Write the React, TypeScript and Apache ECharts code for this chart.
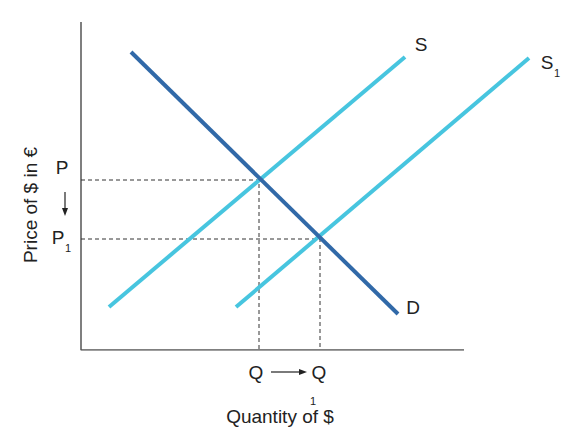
import React, { useEffect, useRef } from "react";
import * as echarts from "echarts";

// Diagram coordinates (arbitrary units; x: quantity, y: price)
const axisPath: [number, number][] = [[0, 328], [0, 0], [383, 0]];
const demandD: [number, number][] = [[50, 298], [317, 36]];
const supplyS: [number, number][] = [[28, 43], [324, 293]];
const supplyS1: [number, number][] = [[155, 43], [448, 292]];
const equilibrium: [number, number] = [178, 170];
const equilibrium1: [number, number] = [239, 111];

const FONT = "Liberation Sans, Arial, Helvetica, sans-serif";

export default function App() {
  const ref = useRef<HTMLDivElement>(null);
  useEffect(() => {
    document.body.style.margin = "0";
    const chart = echarts.init(ref.current!, null, { renderer: "svg" });
    const txt = (text: string, x: number, y: number, size = 19, extra: any = {}) => ({
      type: "text",
      x,
      y,
      ...extra,
      style: {
        text,
        fontFamily: FONT,
        fontSize: size,
        fill: "#222",
        textAlign: "center",
        textVerticalAlign: "middle",
      },
    });
    chart.setOption({
      animation: false,
      backgroundColor: "#fff",
      grid: { left: 81, top: 22, right: 39, bottom: 93 },
      xAxis: { type: "value", min: 0, max: 459, show: false },
      yAxis: { type: "value", min: 0, max: 328, show: false },
      series: [
        {
          type: "line",
          data: axisPath,
          symbol: "none",
          lineStyle: { color: "#555", width: 1.5 },
          silent: true,
        },
        {
          type: "line",
          data: [[0, equilibrium[1]], equilibrium, [equilibrium[0], 0]],
          symbol: "none",
          lineStyle: { color: "#333", width: 1, type: [4, 3] },
        },
        {
          type: "line",
          data: [[0, equilibrium1[1]], equilibrium1, [equilibrium1[0], 0]],
          symbol: "none",
          lineStyle: { color: "#333", width: 1, type: [4, 3] },
        },
        {
          type: "line",
          data: supplyS,
          symbol: "none",
          lineStyle: { color: "#47c5df", width: 4 },
        },
        {
          type: "line",
          data: supplyS1,
          symbol: "none",
          lineStyle: { color: "#47c5df", width: 4 },
        },
        {
          type: "line",
          data: demandD,
          symbol: "none",
          lineStyle: { color: "#3169a8", width: 4 },
        },
      ],
      graphic: [
        txt("S", 421, 44),
        txt("S", 547, 62),
        txt("1", 557, 73, 11),
        txt("D", 413, 307),
        txt("P", 62, 167),
        txt("P", 58, 237),
        txt("1", 68, 248, 11),
        txt("Q", 256, 372),
        txt("Q", 319, 372),
        txt("1", 313, 401, 11),
        txt("Quantity of $", 280, 416),
        txt("Price of $ in €", 30, 205, 19, { rotation: Math.PI / 2 }),
        { type: "line", shape: { x1: 65, y1: 192, x2: 65, y2: 209 }, style: { stroke: "#222", lineWidth: 1.2 } },
        { type: "polygon", shape: { points: [[62, 208], [68, 208], [65, 216]] }, style: { fill: "#222" } },
        { type: "line", shape: { x1: 271, y1: 372, x2: 300, y2: 372 }, style: { stroke: "#222", lineWidth: 1.2 } },
        { type: "polygon", shape: { points: [[299, 369], [299, 375], [307, 372]] }, style: { fill: "#222" } },
      ],
    });
    return () => chart.dispose();
  }, []);
  return (
    <div
      ref={ref}
      style={{ position: "fixed", left: 0, top: 0, width: 579, height: 443 }}
    />
  );
}
